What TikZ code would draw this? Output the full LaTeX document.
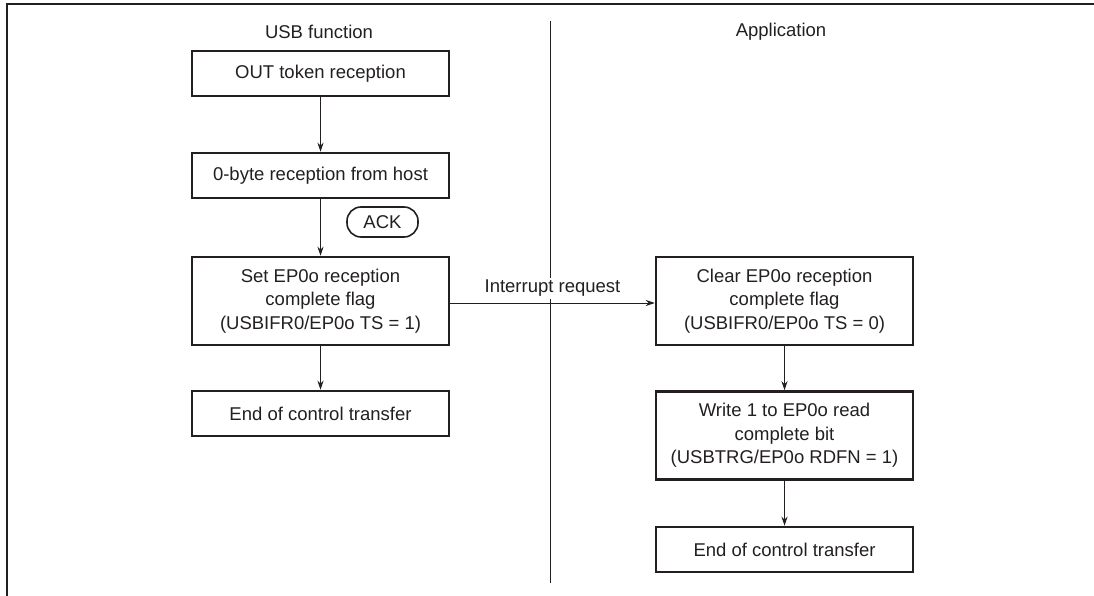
\documentclass[tikz,border=0pt]{standalone}
\usepackage{fontspec}
\setmainfont{Liberation Sans}
\usetikzlibrary{arrows.meta}
\definecolor{ink}{HTML}{231F20}
\begin{document}
\begin{tikzpicture}[x=1pt,y=-1pt,
  every node/.style={text=ink,font=\fontsize{18.5}{23.5}\selectfont},
  procbox/.style={draw=ink,line width=2.5pt,minimum width=257pt,align=center,inner sep=2pt},
  single/.style={procbox,minimum height=45pt},
  triple/.style={procbox,minimum height=88pt},
  flow/.style={draw=ink,line width=1pt,-{Stealth[length=9pt,width=6pt]}},
  tag/.style={draw=ink,line width=1.6pt,rounded corners=14pt,minimum width=71pt,minimum height=30pt,inner sep=1pt}]
\useasboundingbox (0,0) rectangle (1094,596);
\draw[ink,line width=2.5pt] (7,596) -- (7,4) -- (1094,4);
% headings
\node (hUSB) at (319,32) {USB function};
\node (hApp) at (781,32) {Application};
% divider
\coordinate (dTop) at (550,21);
\coordinate (dBot) at (550,583);
\draw[ink,line width=1pt] (dTop) -- (dBot);
% left column
\node[single] (out) at (320.5,73.5) {OUT token reception};
\node[single] (zero) at (320.5,175.5) {0-byte reception from host};
\node[triple] (set) at (320.5,301) {Set EP0o reception\\complete flag\\(USBIFR0/EP0o TS = 1)};
\node[single] (endL) at (320.5,413.5) {End of control transfer};
\node[tag] (ack) at (382.5,222) {ACK};
% right column
\node[triple] (clr) at (784.5,301) {Clear EP0o reception\\complete flag\\(USBIFR0/EP0o TS = 0)};
\node[triple] (wr) at (784.5,435.5) {Write 1 to EP0o read\\complete bit\\(USBTRG/EP0o RDFN = 1)};
\node[single] (endR) at (784.5,549.5) {End of control transfer};
% connectors
\draw[flow] (out) -- (zero);
\draw[flow] (zero) -- (set);
\draw[flow] (set) -- (endL);
\draw[flow] (clr) -- (wr);
\draw[flow] (wr) -- (endR);
\draw[flow] ([yshift=-2pt]set.east) -- node[above=4pt,fill=white,inner sep=2pt] (irq) {Interrupt request} ([yshift=-2pt]clr.west);
\end{tikzpicture}
\end{document}
